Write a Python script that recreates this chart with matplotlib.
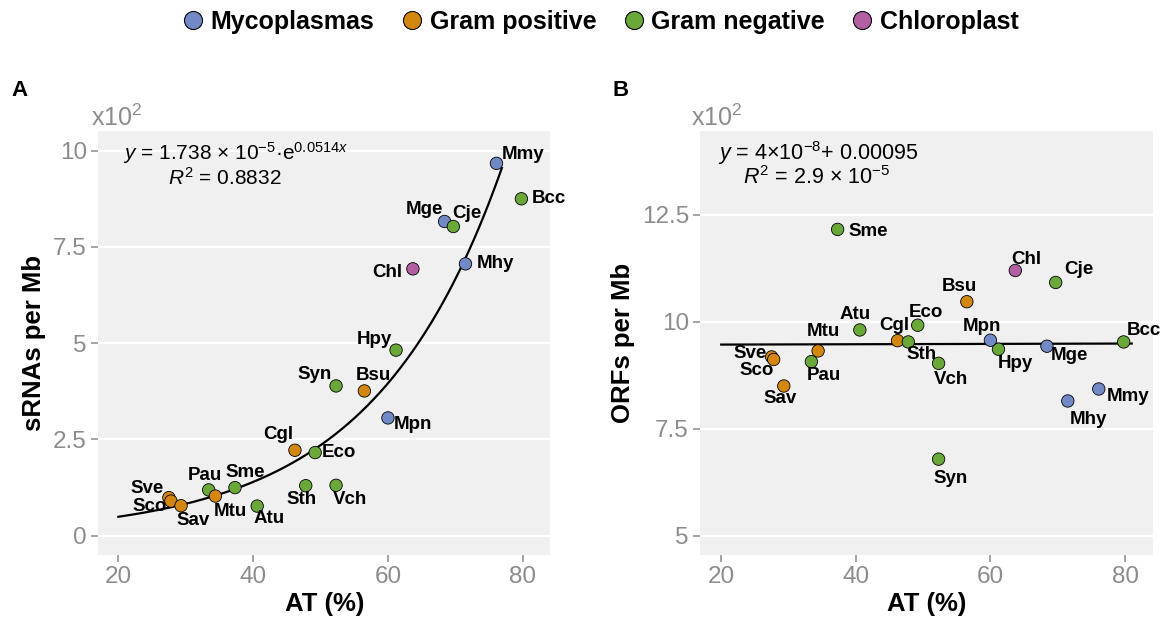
import matplotlib
matplotlib.use("Agg")
import matplotlib.pyplot as plt
from matplotlib.lines import Line2D
import numpy as np

plt.rcParams['font.family'] = ['Liberation Sans', 'DejaVu Sans']
plt.rcParams['mathtext.fontset'] = 'custom'
plt.rcParams['mathtext.rm'] = 'Liberation Sans'
plt.rcParams['mathtext.it'] = 'Liberation Sans:italic'
plt.rcParams['mathtext.bf'] = 'Liberation Sans:bold'

# ---------------- data ----------------
organisms = ["Mmy", "Bcc", "Mge", "Cje", "Chl", "Mhy", "Hpy", "Syn", "Bsu", "Mpn",
             "Cgl", "Eco", "Pau", "Sme", "Mtu", "Atu", "Sth", "Vch", "Sve", "Sco", "Sav"]
groups = ["Mycoplasmas", "Gram negative", "Mycoplasmas", "Gram negative", "Chloroplast",
          "Mycoplasmas", "Gram negative", "Gram negative", "Gram positive", "Mycoplasmas",
          "Gram positive", "Gram negative", "Gram negative", "Gram negative", "Gram positive",
          "Gram negative", "Gram negative", "Gram negative", "Gram positive", "Gram positive",
          "Gram positive"]
at_percent = [76.1, 79.8, 68.4, 69.7, 63.7, 71.5, 61.2, 52.3, 56.5, 60.0,
              46.2, 49.2, 33.4, 37.3, 34.4, 40.6, 47.8, 52.3, 27.5, 27.8, 29.3]
srna_per_mb = [9.67, 8.75, 8.16, 8.03, 6.93, 7.06, 4.82, 3.89, 3.76, 3.06,
               2.22, 2.16, 1.19, 1.25, 1.03, 0.77, 1.30, 1.31, 0.99, 0.90, 0.78]   # x10^2
orf_per_mb = [8.43, 9.53, 9.43, 10.92, 11.20, 8.15, 9.36, 6.79, 10.47, 9.57,
              9.56, 9.92, 9.07, 12.16, 9.32, 9.81, 9.53, 9.03, 9.18, 9.12, 8.50]   # x10^2

group_order = ["Mycoplasmas", "Gram positive", "Gram negative", "Chloroplast"]
group_colors = {"Mycoplasmas": "#7189c6", "Gram positive": "#d4870f",
                "Gram negative": "#6aa83a", "Chloroplast": "#b45ea3"}

# fitted curves
exp_a, exp_b = 1.738e-5, 0.0521          # per base
exp_range = (20, 76.9)
lin_slope, lin_int = 4e-8, 0.000946      # per base
lin_range = (20, 81)

# label offsets in pixels (dx, dy) for each panel
offs_a = {"Mmy": (27, 9), "Bcc": (27, 0), "Mge": (-20, 12), "Cje": (14, 13), "Chl": (-26, -4),
          "Mhy": (30, 0), "Hpy": (-22, 11), "Syn": (-21, 11), "Bsu": (9, 15), "Mpn": (25, -7),
          "Cgl": (-17, 16), "Eco": (24, 0), "Pau": (-4, 14), "Sme": (10, 15), "Mtu": (15, -15),
          "Atu": (12, -12), "Sth": (-4, -14), "Vch": (14, -14), "Sve": (-22, 9), "Sco": (-21, -5),
          "Sav": (12, -15)}
offs_b = {"Mmy": (29, -8), "Bcc": (20, 11), "Mge": (23, -9), "Cje": (23, 13), "Chl": (11, 11),
          "Mhy": (21, -19), "Hpy": (17, -14), "Syn": (12, -19), "Bsu": (-7, 15), "Mpn": (-8, 14),
          "Cgl": (-3, 15), "Eco": (8, 13), "Pau": (12, -14), "Sme": (31, -2), "Mtu": (5, 19),
          "Atu": (-5, 15), "Sth": (13, -13), "Vch": (12, -16), "Sve": (-22, 3), "Sco": (-17, -11),
          "Sav": (-4, -13)}

W, H = 1163, 621
fig = plt.figure(figsize=(W / 100, H / 100), dpi=100)

GRAY = "#8c8c8c"
BG = "#f0f0f0"


def px(x, y):
    return (x / W, 1 - y / H)


def make_axes(left_px, right_px, top_px, bottom_px):
    ax = fig.add_axes([left_px / W, 1 - bottom_px / H, (right_px - left_px) / W,
                       (bottom_px - top_px) / H])
    ax.set_facecolor(BG)
    for s in ax.spines.values():
        s.set_visible(False)
    ax.grid(axis='y', color='white', linewidth=1.6)
    ax.grid(axis='x', visible=False)
    ax.set_axisbelow(True)
    ax.tick_params(axis='both', colors=GRAY, labelcolor=GRAY, labelsize=17.5,
                   length=5, width=1.1, pad=3)
    return ax


def draw_points(ax, yvals, offsets):
    colors = [group_colors[g] for g in groups]
    ax.scatter(at_percent, yvals, s=80, c=colors, edgecolors='black', linewidths=0.6, zorder=3)
    for name, x, y in zip(organisms, at_percent, yvals):
        dx, dy = offsets[name]
        ax.annotate(name, (x, y), xytext=(dx, dy), textcoords='offset pixels',
                    ha='center', va='center', fontsize=13.5, fontweight='bold', zorder=4)


# ---------- Panel A ----------
axA = make_axes(98, 550.4, 131, 555)
xx = np.linspace(exp_range[0], exp_range[1], 300)
axA.plot(xx, exp_a * np.exp(exp_b * xx) * 1e6 / 100, color='black', linewidth=1.6, zorder=2)
draw_points(axA, srna_per_mb, offs_a)
axA.set_xlim(16.98, 84.1)
axA.set_ylim(-0.50, 10.51)
axA.set_xticks([20, 40, 60, 80])
axA.set_yticks([0, 2.5, 5, 7.5, 10])
axA.set_yticklabels(["0", "2.5", "5", "7.5", "10"])
axA.set_xlabel("AT (%)", fontsize=18.5, fontweight='bold', labelpad=3)
axA.set_ylabel("sRNAs per Mb", fontsize=18.5, fontweight='bold', labelpad=5)

fig.text(*px(236, 153), r"$y$ = 1.738 × 10$^{-5}$·e$^{0.0514\mathit{x}}$",
         ha='center', va='center', fontsize=15)
fig.text(*px(225, 178), r"$R^2$ = 0.8832", ha='center', va='center', fontsize=15)

# ---------- Panel B ----------
axB = make_axes(700, 1152.6, 131, 555)
xl = np.linspace(lin_range[0], lin_range[1], 50)
axB.plot(xl, (lin_slope * xl + lin_int) * 1e6 / 100, color='black', linewidth=1.6, zorder=2)
draw_points(axB, orf_per_mb, offs_b)
axB.set_xlim(16.85, 84.1)
axB.set_ylim(4.55, 14.46)
axB.set_xticks([20, 40, 60, 80])
axB.set_yticks([5, 7.5, 10, 12.5])
axB.set_yticklabels(["5", "7.5", "10", "12.5"])
axB.set_xlabel("AT (%)", fontsize=18.5, fontweight='bold', labelpad=3)
axB.set_ylabel("ORFs per Mb", fontsize=18.5, fontweight='bold', labelpad=5)

fig.text(*px(818, 153), r"$y$ = 4×10$^{-8}$+ 0.00095", ha='center', va='center', fontsize=15.5)
fig.text(*px(817, 178), r"$R^2$ = 2.9 × 10$^{-5}$", ha='center', va='center', fontsize=15.5)

# multipliers and panel letters
fig.text(*px(91, 118), r"x10$^2$", color=GRAY, fontsize=18, ha='left', va='center')
fig.text(*px(691, 118), r"x10$^2$", color=GRAY, fontsize=18, ha='left', va='center')
fig.text(*px(11, 91), "A", fontsize=16, fontweight='bold', ha='left', va='center')
fig.text(*px(613, 91), "B", fontsize=16, fontweight='bold', ha='left', va='center')

# legend
handles = [Line2D([], [], marker='o', linestyle='none', markersize=13,
                  markerfacecolor=group_colors[g], markeredgecolor='black',
                  markeredgewidth=0.8, label=g) for g in group_order]
leg = fig.legend(handles=handles, loc='center', bbox_to_anchor=px(601, 22),
                 ncol=4, frameon=False, handlelength=0.8, handletextpad=0.3,
                 columnspacing=1.1, prop={'weight': 'bold', 'size': 18})

fig.savefig("out.png", dpi=100)
